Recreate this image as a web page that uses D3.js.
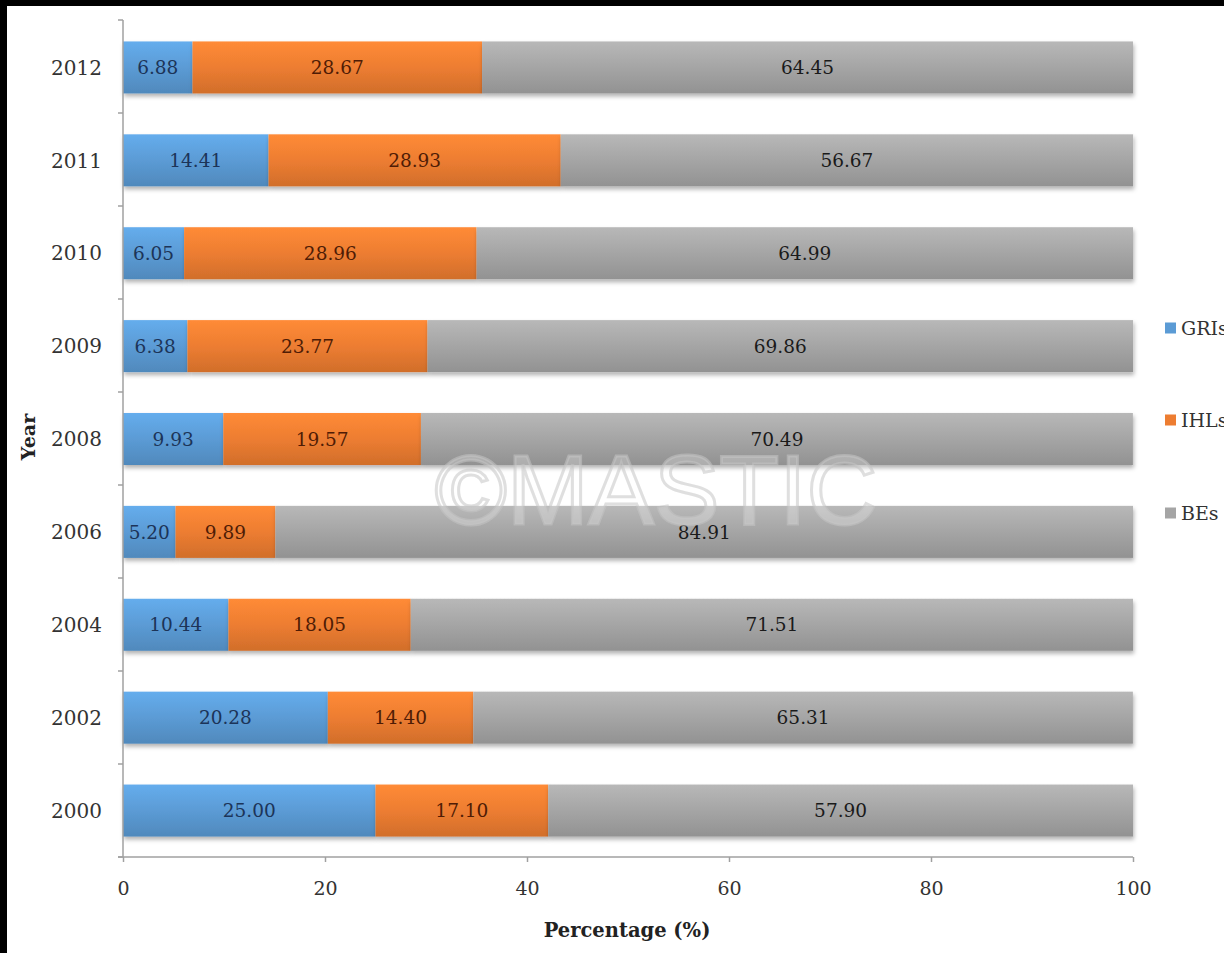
<!DOCTYPE html>
<html>
<head>
<meta charset="utf-8">
<script src="https://cdn.jsdelivr.net/npm/d3@7/dist/d3.min.js"></script>
<style>
  html, body { margin: 0; padding: 0; background: #000; }
  svg { display: block; }
</style>
</head>
<body>
<svg id="chart" width="1224" height="953"></svg>
<script>
// Share of each sector per survey year (percent)
const years = ["2000", "2002", "2004", "2006", "2008", "2009", "2010", "2011", "2012"];
const gris  = [25.00, 20.28, 10.44, 5.20, 9.93, 6.38, 6.05, 14.41, 6.88];
const ihls  = [17.10, 14.40, 18.05, 9.89, 19.57, 23.77, 28.96, 28.93, 28.67];
const bes   = [57.90, 65.31, 71.51, 84.91, 70.49, 69.86, 64.99, 56.67, 64.45];
const seriesNames = ["GRIs", "IHLs", "BEs"];
const xTicks = [0, 20, 40, 60, 80, 100];

const colors = { GRIs: "#5b9bd5", IHLs: "#ed7d31", BEs: "#a5a5a5" };
const labelColors = { GRIs: "#1c3458", IHLs: "#4f1c05", BEs: "#1a1a1a" };

const rows = years.map((y, i) => ({ year: y, GRIs: gris[i], IHLs: ihls[i], BEs: bes[i] }));
const stacked = d3.stack().keys(seriesNames)(rows);

const svg = d3.select("#chart");
const serif = "'DejaVu Serif', 'Liberation Serif', serif";

// page: white sheet with a thin dark frame on the top and left edges
svg.append("rect").attr("x", 7).attr("y", 6).attr("width", 1224 - 7).attr("height", 953 - 6).attr("fill", "#fff");

const x = d3.scaleLinear().domain([0, 100]).range([123, 1133]);
const y = d3.scaleBand().domain(years.slice().reverse()).range([21, 857]).paddingInner(0.44).paddingOuter(0.22);

const defs = svg.append("defs");
seriesNames.forEach(k => {
  const c = d3.color(colors[k]);
  const g = defs.append("linearGradient").attr("id", "grad-" + k).attr("x1", 0).attr("y1", 0).attr("x2", 0).attr("y2", 1);
  g.append("stop").attr("offset", "0%").attr("stop-color", c.brighter(0.3));
  g.append("stop").attr("offset", "50%").attr("stop-color", c);
  g.append("stop").attr("offset", "100%").attr("stop-color", c.darker(0.35));
});
const sh = defs.append("filter").attr("id", "shadow").attr("x", "-5%").attr("y", "-20%").attr("width", "110%").attr("height", "160%");
sh.append("feDropShadow").attr("dx", 1).attr("dy", 3).attr("stdDeviation", 2).attr("flood-color", "#000").attr("flood-opacity", 0.3);

// bars
const barLayer = svg.append("g");
stacked.forEach(layer => {
  barLayer.append("g")
    .selectAll("rect")
    .data(layer)
    .join("rect")
    .attr("x", d => x(d[0]))
    .attr("y", d => y(d.data.year))
    .attr("width", d => x(d[1]) - x(d[0]))
    .attr("height", y.bandwidth())
    .attr("fill", "url(#grad-" + layer.key + ")")
    .attr("filter", "url(#shadow)");
});

// value labels
stacked.forEach(layer => {
  svg.append("g")
    .selectAll("text")
    .data(layer)
    .join("text")
    .attr("x", d => (x(d[0]) + x(d[1])) / 2)
    .attr("y", d => y(d.data.year) + y.bandwidth() / 2)
    .attr("dy", "0.36em")
    .attr("text-anchor", "middle")
    .attr("font-family", serif)
    .attr("font-size", 18.5)
    .attr("fill", labelColors[layer.key])
    .text(d => d.data[layer.key].toFixed(2));
});

// watermark
svg.append("text")
  .attr("x", 656).attr("y", 524)
  .attr("text-anchor", "middle")
  .attr("font-family", "'Liberation Sans', Arial, sans-serif")
  .attr("font-size", 98)
  .attr("fill", "#ffffff").attr("fill-opacity", 0.25)
  .attr("stroke", "#c4c4c4").attr("stroke-opacity", 0.55).attr("stroke-width", 3)
  .text("©MASTIC");

// axes
const axisColor = "#a0a0a0";
const yAxis = svg.append("g").attr("transform", "translate(123,0)");
yAxis.append("line").attr("x1", 0).attr("x2", 0).attr("y1", 20).attr("y2", 857).attr("stroke", axisColor).attr("stroke-width", 1.5);
const bounds = d3.range(years.length + 1).map(i => 20 + i * (837 / years.length));
yAxis.selectAll("line.tick").data(bounds).join("line").attr("class", "tick")
  .attr("x1", -5).attr("x2", 0).attr("y1", d => d).attr("y2", d => d)
  .attr("stroke", axisColor).attr("stroke-width", 1.5);
yAxis.selectAll("text").data(years).join("text")
  .attr("x", -21).attr("y", d => y(d) + y.bandwidth() / 2).attr("dy", "0.36em")
  .attr("text-anchor", "end").attr("font-family", serif).attr("font-size", 20).attr("fill", "#333")
  .text(d => d);

const xAxis = svg.append("g").attr("transform", "translate(0,857)")
  .call(d3.axisBottom(x).tickValues(xTicks).tickSize(5).tickSizeOuter(0).tickPadding(20));
xAxis.select(".domain").attr("stroke", axisColor).attr("stroke-width", 1.5).attr("d", "M118,0H1133");
xAxis.selectAll(".tick line").attr("stroke", axisColor).attr("stroke-width", 1.5);
xAxis.selectAll(".tick text").attr("font-family", serif).attr("font-size", 19).attr("fill", "#333");

// axis titles
svg.append("text")
  .attr("transform", "translate(35,437) rotate(-90)")
  .attr("text-anchor", "middle").attr("font-family", serif).attr("font-weight", "bold")
  .attr("font-size", 19).attr("fill", "#222").text("Year");
svg.append("text")
  .attr("x", 627).attr("y", 937)
  .attr("text-anchor", "middle").attr("font-family", serif).attr("font-weight", "bold")
  .attr("font-size", 19.5).attr("fill", "#222").text("Percentage (%)");

// legend
const legendY = [328, 420, 513];
const legend = svg.append("g");
seriesNames.forEach((k, i) => {
  legend.append("rect").attr("x", 1165).attr("y", legendY[i] - 5.5).attr("width", 11).attr("height", 11).attr("fill", colors[k]);
  legend.append("text").attr("x", 1181).attr("y", legendY[i]).attr("dy", "0.36em")
    .attr("font-family", serif).attr("font-size", 19).attr("fill", "#333").text(k);
});
</script>
</body>
</html>
